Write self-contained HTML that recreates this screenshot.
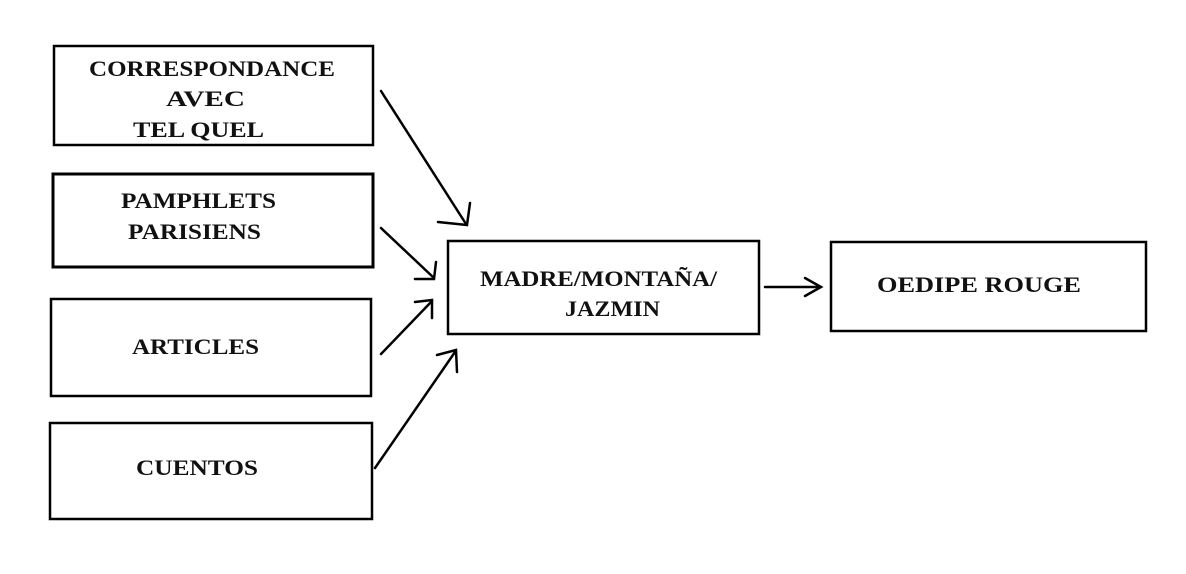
<!DOCTYPE html>
<html><head><meta charset="utf-8"><style>
html,body{margin:0;padding:0;background:#fff;}
svg{display:block;}
text{font-family:"Liberation Serif",serif;font-weight:bold;font-size:22px;fill:#111;}
</style></head><body>
<svg width="1186" height="574" viewBox="0 0 1186 574" xmlns="http://www.w3.org/2000/svg">
<g fill="none" stroke="#000" stroke-width="2.5">
<rect x="54" y="46" width="319" height="99"/>
<rect x="53" y="174" width="320" height="93" stroke-width="3"/>
<rect x="51" y="299" width="320" height="97"/>
<rect x="50" y="423" width="322" height="96"/>
<rect x="448" y="241" width="311" height="93"/>
<rect x="831" y="242" width="315" height="89"/>
</g>
<g fill="none" stroke="#000" stroke-width="2.5" stroke-linecap="round">
<line x1="381" y1="91" x2="466" y2="224"/>
<polyline points="470,203 467,225 438,222"/>
<line x1="381" y1="228" x2="434" y2="278"/>
<polyline points="436,262 434,279 415,279"/>
<line x1="381" y1="354" x2="432" y2="301"/>
<polyline points="432,318 432,300 415,302"/>
<line x1="375" y1="468" x2="455" y2="352"/>
<polyline points="437,355 456,350 457,372"/>
<line x1="765" y1="287" x2="820" y2="287"/>
<polyline points="805,278 821,287 805,296"/>
</g>
<text x="89" y="76" textLength="246" lengthAdjust="spacingAndGlyphs">CORRESPONDANCE</text>
<text x="166" y="106" textLength="79" lengthAdjust="spacingAndGlyphs">AVEC</text>
<text x="133" y="137" textLength="131" lengthAdjust="spacingAndGlyphs">TEL QUEL</text>
<text x="121" y="208" textLength="155" lengthAdjust="spacingAndGlyphs">PAMPHLETS</text>
<text x="128" y="239" textLength="133" lengthAdjust="spacingAndGlyphs">PARISIENS</text>
<text x="132" y="354" textLength="127" lengthAdjust="spacingAndGlyphs">ARTICLES</text>
<text x="136" y="475" textLength="122" lengthAdjust="spacingAndGlyphs">CUENTOS</text>
<text x="480" y="286" textLength="237" lengthAdjust="spacingAndGlyphs">MADRE/MONTAÑA/</text>
<text x="565" y="316" textLength="95" lengthAdjust="spacingAndGlyphs">JAZMIN</text>
<text x="877" y="292" textLength="204" lengthAdjust="spacingAndGlyphs">OEDIPE  ROUGE</text>
</svg>
</body></html>
